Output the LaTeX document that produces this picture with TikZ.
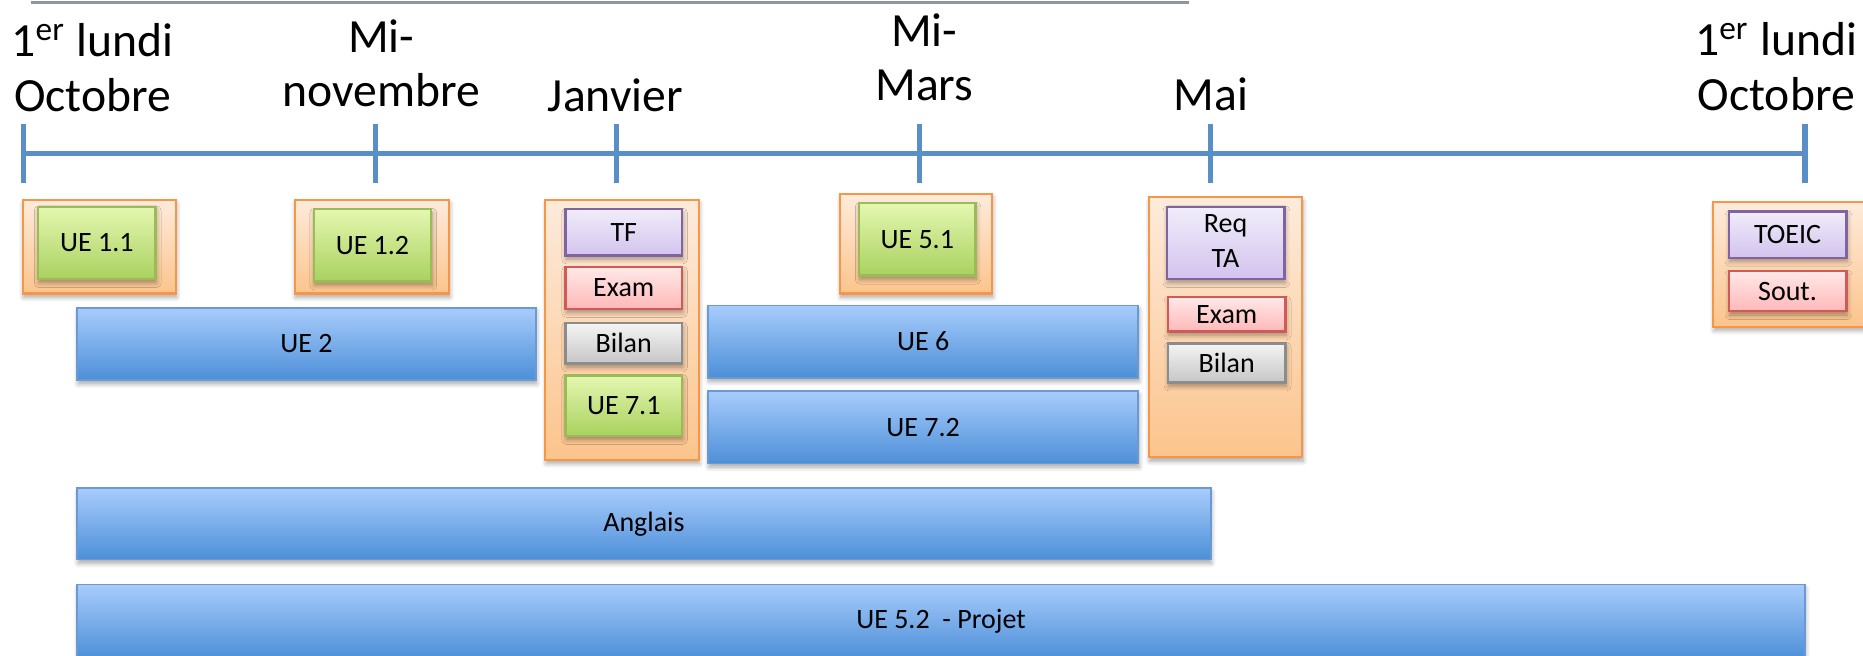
\documentclass[tikz,border=0pt]{standalone}
\usepackage{fontspec}
\setmainfont{Carlito}
\usetikzlibrary{shadows.blur}

\definecolor{axisblue}{HTML}{5A8EC6}
\definecolor{rulegrey}{HTML}{8E979F}
\definecolor{framebd}{HTML}{F79646}
\definecolor{frametop}{HTML}{FDEBDC}
\definecolor{framebot}{HTML}{FCC48C}
\definecolor{greenbd}{HTML}{9BBB59}
\definecolor{greentop}{HTML}{E4F7B0}
\definecolor{greenbot}{HTML}{A9D15F}
\definecolor{purplebd}{HTML}{8064A2}
\definecolor{purpletop}{HTML}{F1EDFA}
\definecolor{purplebot}{HTML}{D2C3EE}
\definecolor{redbd}{HTML}{CF5B58}
\definecolor{redtop}{HTML}{FFE8E8}
\definecolor{redbot}{HTML}{FFB8B8}
\definecolor{greybd}{HTML}{8C8C8C}
\definecolor{greytop}{HTML}{F4F4F4}
\definecolor{greybot}{HTML}{C6C6C6}
\definecolor{bluebd}{HTML}{6A9AD4}
\definecolor{bluetop}{HTML}{A8CCFB}
\definecolor{bluebot}{HTML}{4C8FD8}

\newcommand\twoline[2]{\begin{tabular}[b]{@{}c@{}}#1\\#2\end{tabular}}
\newcommand\twolinec[2]{\begin{tabular}[c]{@{}c@{}}#1\\#2\end{tabular}}

\tikzset{
  every node/.style={inner sep=0pt, outer sep=0pt},
  % rectangle given by its corners (x1,y1) and (x2,y2), in picture units
  corners/.style n args={4}{
      minimum width={(#3-#1)*0.01cm}, minimum height={(#4-#2)*0.01cm},
      at={({(#1+#3)/2},{(#2+#4)/2})}},
  datefont/.style={font=\fontsize{11.4pt}{13.1pt}\selectfont},
  date/.style={datefont, anchor=base},
  boxfont/.style={font=\fontsize{6.7pt}{8.3pt}\selectfont},
  softshadow/.style={blur shadow={shadow xshift=0.2pt, shadow yshift=-0.9pt,
      shadow blur radius=1.1pt, shadow blur steps=6, shadow opacity=35}},
  frame/.style={rectangle, draw=framebd, line width=0.5pt,
      top color=frametop, bottom color=framebot, softshadow},
  item/.style={rectangle, boxfont, line width=0.55pt, softshadow},
  ue/.style={item, draw=greenbd, top color=greentop, bottom color=greenbot},
  eval/.style={item, draw=purplebd, top color=purpletop, bottom color=purplebot},
  exam/.style={item, draw=redbd, top color=redtop, bottom color=redbot},
  review/.style={item, draw=greybd, top color=greytop, bottom color=greybot},
  course/.style={rectangle, boxfont, draw=bluebd, line width=0.4pt,
      top color=bluetop, bottom color=bluebot, softshadow},
  axis/.style={draw=axisblue, line width=1.15pt},
  tick/.style={draw=axisblue, line width=1.3pt},
}

\begin{document}
\begin{tikzpicture}[x=0.01cm, y=-0.01cm]
\useasboundingbox (0,0) rectangle (1568,552);

% grey rule along the top edge
\draw[rulegrey, line width=0.7pt] (26,2) -- (1001,2);

% timeline and its ticks
\coordinate (t1) at (20,129);
\coordinate (t2) at (316,129);
\coordinate (t3) at (519,129);
\coordinate (t4) at (774,129);
\coordinate (t5) at (1019,129);
\coordinate (t6) at (1519,129);
\draw[axis] (t1) -- (t6);
\foreach \t in {t1,t2,t3,t4,t5,t6}
  \draw[tick] ([yshift=0.25cm]\t) -- ([yshift=-0.25cm]\t);

% dates
\node[date] (d1) at (78,94) {\twoline{1\textsuperscript{er} lundi}{Octobre}};
\node[date] (d2) at (321,90) {\twoline{Mi-}{novembre}};
\node[date] (d3) at (518,94) {Janvier};
\node[date] (d4) at (778,85) {\twoline{Mi-}{Mars}};
\node[date] (d5) at (1019,93) {Mai};
\node[date] (d6) at (1495,93) {\twoline{1\textsuperscript{er} lundi}{Octobre}};

% October group
\node[frame, corners={19}{168}{148}{247}] (f1) {};
\node[ue, corners={32}{174}{131}{235}] (ue11) {UE 1.1};

% mid-November group
\node[frame, corners={248}{168}{378}{247}] (f2) {};
\node[ue, corners={264}{176}{363}{237}] (ue12) {UE 1.2};

% January group
\node[frame, corners={459}{168}{588}{387}] (f3) {};
\node[eval, corners={476}{176}{574}{215}] (tf) {TF};
\node[exam, corners={476}{225}{574}{260}] (exam1) {Exam};
\node[review, corners={476}{272}{574}{306}] (bilan1) {Bilan};
\node[ue, corners={476}{316}{574}{367}] (ue71) {UE 7.1};

% mid-March group
\node[frame, corners={707}{163}{835}{247}] (f4) {};
\node[ue, corners={723}{171}{821}{232}] (ue51) {UE 5.1};

% May group
\node[frame, corners={967}{166}{1096}{385}] (f5) {};
\node[eval, corners={982}{174}{1081}{235}] (reqta) {\twolinec{Req}{TA}};
\node[exam, corners={983}{250}{1082}{279}] (exam2) {Exam};
\node[review, corners={983}{289}{1082}{322}] (bilan2) {Bilan};

% following October group
\node[frame, corners={1442}{170}{1580}{275}] (f6) {};
\node[eval, corners={1455}{178}{1554}{217}] (toeic) {TOEIC};
\node[exam, corners={1455}{228}{1554}{262}] (sout) {Sout.};

% long-running courses
\node[course, corners={65}{259}{451}{320}] (ue2) {UE 2};
\node[course, corners={596}{257}{958}{318}] (ue6) {UE 6};
\node[course, corners={596}{329}{958}{390}] (ue72) {UE 7.2};
\node[course, corners={65}{411}{1019}{471}] (anglais) {Anglais};
\node[course, corners={65}{492}{1519}{554}] (projet) {UE 5.2 \ - Projet};
\end{tikzpicture}
\end{document}
